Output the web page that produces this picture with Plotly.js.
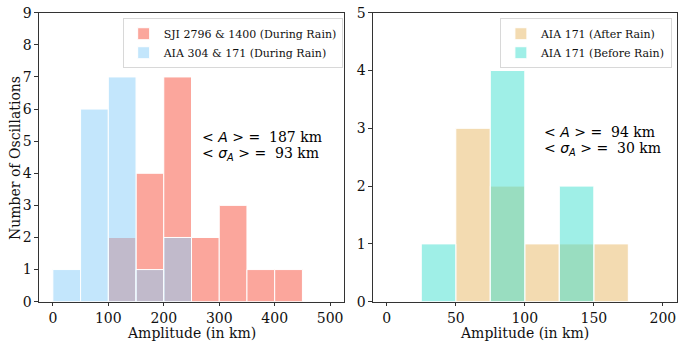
<!DOCTYPE html>
<html>
<head>
<meta charset="utf-8">
<script src="https://cdn.plot.ly/plotly-3.0.1.min.js"></script>
<style>html,body{margin:0;padding:0;background:#fff;}</style>
</head>
<body>
<div id="chart" style="width:678px;height:344px;"></div>
<script>
// Left panel: bins of 50 km (bin centres)
const binsLeft = [25, 75, 125, 175, 225, 275, 325, 375, 425];
const sjiDuring = [0, 0, 2, 4, 7, 2, 3, 1, 1];
const aiaDuring = [1, 6, 7, 1, 2, 0, 0, 0, 0];
// Right panel: bins of 25 km (bin centres)
const binsRight = [37.5, 62.5, 87.5, 112.5, 137.5, 162.5];
const aiaAfter = [0, 3, 2, 1, 1, 1];
const aiaBefore = [1, 0, 4, 0, 2, 0];

const leftTicks = [0, 100, 200, 300, 400, 500];
const rightTicks = [0, 50, 100, 150, 200];
const leftYTicks = [0,1,2,3,4,5,6,7,8,9];
const rightYTicks = [0,1,2,3,4,5];

const serif = "DejaVu Serif, serif";
const axisCol = "#333";
const W = 678, H = 344;

function nz(xs, ys){ const X=[],Y=[]; xs.forEach((x,i)=>{ if(ys[i]>0){X.push(x);Y.push(ys[i]);} }); return [X,Y]; }

const [x1,y1] = nz(binsLeft, sjiDuring);
const [x2,y2] = nz(binsLeft, aiaDuring);
const [x3,y3] = nz(binsRight, aiaAfter);
const [x4,y4] = nz(binsRight, aiaBefore);

const traces = [
  {type:'bar', x:x1, y:y1, width:50, name:'SJI 2796 &amp; 1400 (During Rain)', xaxis:'x', yaxis:'y', legend:'legend',
   marker:{color:'rgba(250,128,114,0.7)', line:{color:'#fff', width:1}}},
  {type:'bar', x:x2, y:y2, width:50, name:'AIA 304 &amp; 171 (During Rain)', xaxis:'x', yaxis:'y', legend:'legend',
   marker:{color:'rgba(135,206,250,0.5)', line:{color:'#fff', width:1}}},
  {type:'bar', x:x3, y:y3, width:25, name:'AIA 171 (After Rain)', xaxis:'x2', yaxis:'y2', legend:'legend2',
   marker:{color:'rgba(243,219,177,1)', line:{color:'#fff', width:1}}},
  {type:'bar', x:x4, y:y4, width:25, name:'AIA 171 (Before Rain)', xaxis:'x2', yaxis:'y2', legend:'legend2',
   marker:{color:'rgba(64,224,208,0.5)', line:{color:'#fff', width:1}}}
];

const axBase = {showline:true, mirror:true, linecolor:axisCol, linewidth:1, ticks:'outside', ticklen:3.5, tickcolor:axisCol,
  showgrid:false, zeroline:false, tickfont:{family:serif, size:14, color:'#111'}, automargin:false, ticklabeloverflow:'allow'};

const legBase = {bgcolor:'rgba(255,255,255,0.8)', bordercolor:'#d8d8d8', borderwidth:1, font:{family:serif, size:11, color:'#111'},
  xanchor:'right', yanchor:'top', xref:'paper', yref:'paper', tracegroupgap:0};

const titleFont = {family:serif, size:14, color:'#111'};
const annFont = {family:serif, size:14, color:'#000'};
const px = v => v / W, py = v => 1 - v / H;
const mathA = '<span style="font-family:DejaVu Sans">&lt; <i>A</i> &gt; = </span> ';
const mathS = '<span style="font-family:DejaVu Sans">&lt; <i>σ</i><sub><i>A</i></sub> &gt; = </span> ';

function ann(x, y, text, extra){ return Object.assign({xref:'paper', yref:'paper', x:px(x), y:py(y), xanchor:'left', yanchor:'middle',
  showarrow:false, align:'left', font:annFont, text:text}, extra||{}); }

const layout = {
  width:W, height:H, margin:{l:0,r:0,t:0,b:0}, paper_bgcolor:'#fff', plot_bgcolor:'#fff',
  barmode:'overlay', showlegend:true,
  xaxis: Object.assign({}, axBase, {domain:[0.0575,0.5074], range:[-25,525], tickvals:leftTicks}),
  yaxis: Object.assign({}, axBase, {domain:[0.123,0.963], range:[0,9], tickvals:leftYTicks}),
  xaxis2: Object.assign({}, axBase, {domain:[0.5501,0.998], range:[-10,210], tickvals:rightTicks, anchor:'y2'}),
  yaxis2: Object.assign({}, axBase, {domain:[0.123,0.963], range:[0,5], tickvals:rightYTicks, anchor:'x2'}),
  legend: Object.assign({}, legBase, {x:0.5054, y:0.947}),
  legend2: Object.assign({}, legBase, {x:0.991, y:0.947}),
  annotations: [
    {xref:'paper', yref:'paper', x:px(15), y:py(158), xanchor:'center', yanchor:'middle', textangle:-90, showarrow:false,
     font:titleFont, text:'Number of Oscillations'},
    {xref:'paper', yref:'paper', x:px(191.5), y:py(333), xanchor:'center', yanchor:'middle', showarrow:false,
     font:titleFont, text:'Amplitude (in km)'},
    {xref:'paper', yref:'paper', x:px(524.5), y:py(333), xanchor:'center', yanchor:'middle', showarrow:false,
     font:titleFont, text:'Amplitude (in km)'},
    ann(200, 137, mathA + '187 km'),
    ann(200, 154, mathS + '93 km'),
    ann(541.5, 132, mathA + '94 km'),
    ann(541.5, 149, mathS + '30 km')
  ]
};

Plotly.newPlot('chart', traces, layout, {displayModeBar:false, staticPlot:true});
</script>
</body>
</html>
